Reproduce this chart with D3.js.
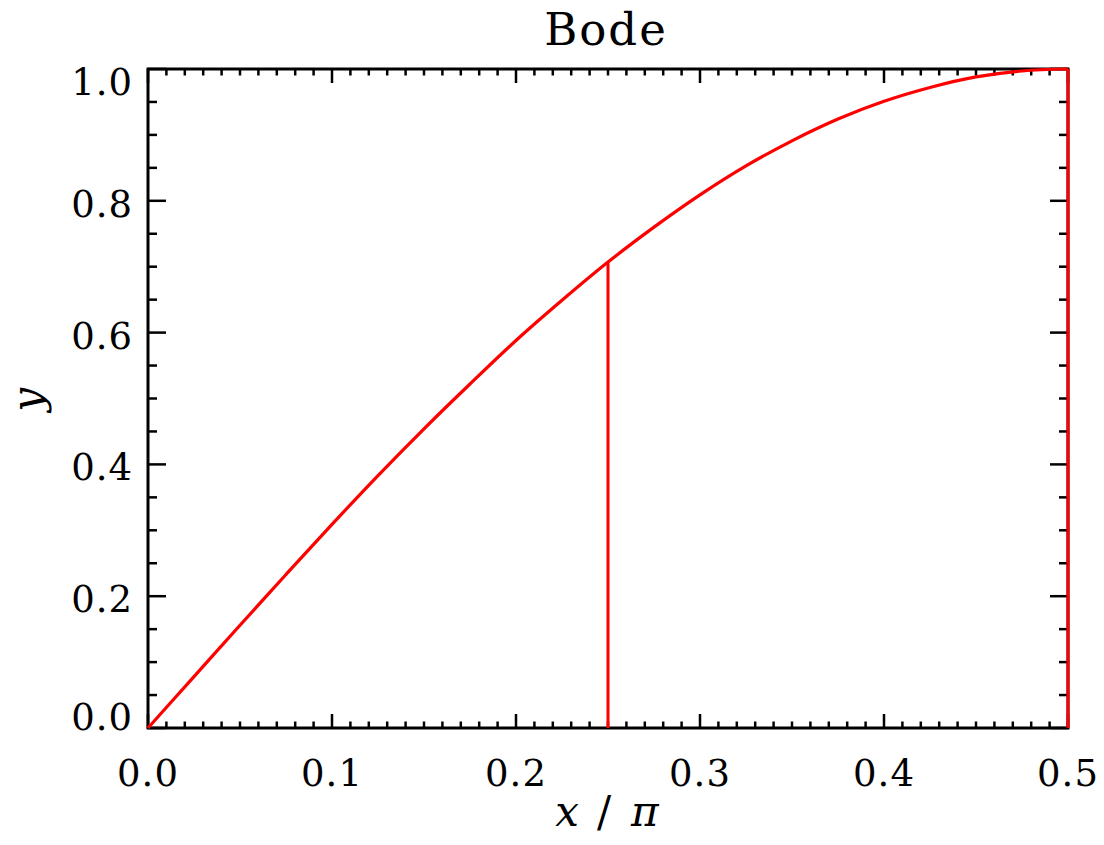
<!DOCTYPE html>
<html>
<head>
<meta charset="utf-8">
<script src="https://cdn.jsdelivr.net/npm/d3@7"></script>
<style>
    body { margin: 0; background: #fff; }
    text { font-family: 'DejaVu Serif', serif; fill: #000; }
</style>
</head>
<body>
<svg id="chart" width="1104" height="845"></svg>
<script>
// data (x in units of pi)
const xOverPi = [0, 0.025, 0.05, 0.075, 0.1, 0.125, 0.15, 0.175, 0.2, 0.225, 0.25,
                 0.275, 0.3, 0.325, 0.35, 0.375, 0.4, 0.425, 0.45, 0.475, 0.5]
const yValues = [0, 0.078, 0.156, 0.233, 0.309, 0.383, 0.454, 0.522, 0.588, 0.649, 0.707,
                 0.760, 0.809, 0.853, 0.891, 0.924, 0.951, 0.972, 0.988, 0.997, 1.0]
// vertical drop lines
const dropX = [0.25, 0.5]
const dropY = [0.707, 1.0]

const xTicks = [0, 0.1, 0.2, 0.3, 0.4, 0.5]
const yTicks = [0, 0.2, 0.4, 0.6, 0.8, 1.0]
const titleText = 'Bode'

// metrics
const m = {left: 148, top: 69, right: 1068, bottom: 728}
const red = '#ff0000'

// scales
const x = d3.scaleLinear().domain([0, 0.5]).range([m.left, m.right])
const y = d3.scaleLinear().domain([0, 1]).range([m.bottom, m.top])

const svg = d3.select('#chart')

// --- ticks (IDL style: on all four sides, pointing inward)
const xMinor = d3.range(0, 51).map(i => i / 100)
const yMinor = d3.range(0, 21).map(i => i / 20)
const isMajor = (v, step) => Math.abs(v / step - Math.round(v / step)) < 1e-6

const ticksG = svg.append('g').attr('stroke', '#000').attr('stroke-width', 2.5)
xMinor.forEach(v => {
    const len = isMajor(v, 0.1) ? 14 : 6.5
    ticksG.append('line')
        .attr('x1', x(v)).attr('x2', x(v))
        .attr('y1', m.bottom).attr('y2', m.bottom - len)
    ticksG.append('line')
        .attr('x1', x(v)).attr('x2', x(v))
        .attr('y1', m.top).attr('y2', m.top + len)
})
yMinor.forEach(v => {
    const len = isMajor(v, 0.2) ? 18 : 9
    ticksG.append('line')
        .attr('y1', y(v)).attr('y2', y(v))
        .attr('x1', m.left).attr('x2', m.left + len)
    ticksG.append('line')
        .attr('y1', y(v)).attr('y2', y(v))
        .attr('x1', m.right).attr('x2', m.right - len)
})

// frame
svg.append('rect')
    .attr('x', m.left).attr('y', m.top)
    .attr('width', m.right - m.left).attr('height', m.bottom - m.top)
    .attr('fill', 'none').attr('stroke', '#000').attr('stroke-width', 3)

// --- tick labels
svg.append('g').selectAll('text').data(xTicks).enter().append('text')
    .attr('x', d => x(d)).attr('y', 786)
    .attr('text-anchor', 'middle')
    .style('font-size', '37px').style('letter-spacing', '1px')
    .text(d => d3.format('.1f')(d))

// IDL nudges the end labels inside the axis range
svg.append('g').selectAll('text').data(yTicks).enter().append('text')
    .attr('x', m.left - 15)
    .attr('y', d => Math.min(Math.max(y(d) + 16, m.top + 26), m.bottom + 2))
    .attr('text-anchor', 'end')
    .style('font-size', '37px').style('letter-spacing', '1px')
    .text(d => d3.format('.1f')(d))

// --- titles
svg.append('text')
    .attr('x', 606).attr('y', 45)
    .attr('text-anchor', 'middle')
    .style('font-size', '45px').style('letter-spacing', '2px')
    .text(titleText)

svg.append('text')
    .attr('transform', 'translate(42,400) rotate(-90)')
    .attr('text-anchor', 'middle')
    .style('font-size', '42px').style('font-style', 'italic')
    .text('y')

const xl = svg.append('text')
    .attr('x', 607).attr('y', 826)
    .attr('text-anchor', 'middle')
    .style('font-size', '42px')
xl.append('tspan').style('font-style', 'italic').text('x')
xl.append('tspan').attr('dx', 18).text('/')
xl.append('tspan').attr('dx', 20).style('font-style', 'italic').text('π')

// --- curve
const line = d3.line()
    .x((d, i) => x(xOverPi[i]))
    .y(d => y(d))
    .curve(d3.curveMonotoneX)

svg.append('path')
    .attr('d', line(yValues))
    .attr('fill', 'none').attr('stroke', red).attr('stroke-width', 3.2)

svg.append('g').selectAll('line').data(dropX).enter().append('line')
    .attr('x1', d => x(d)).attr('x2', d => x(d))
    .attr('y1', y(0)).attr('y2', (d, i) => y(dropY[i]))
    .attr('stroke', red).attr('stroke-width', 3)
</script>
</body>
</html>
